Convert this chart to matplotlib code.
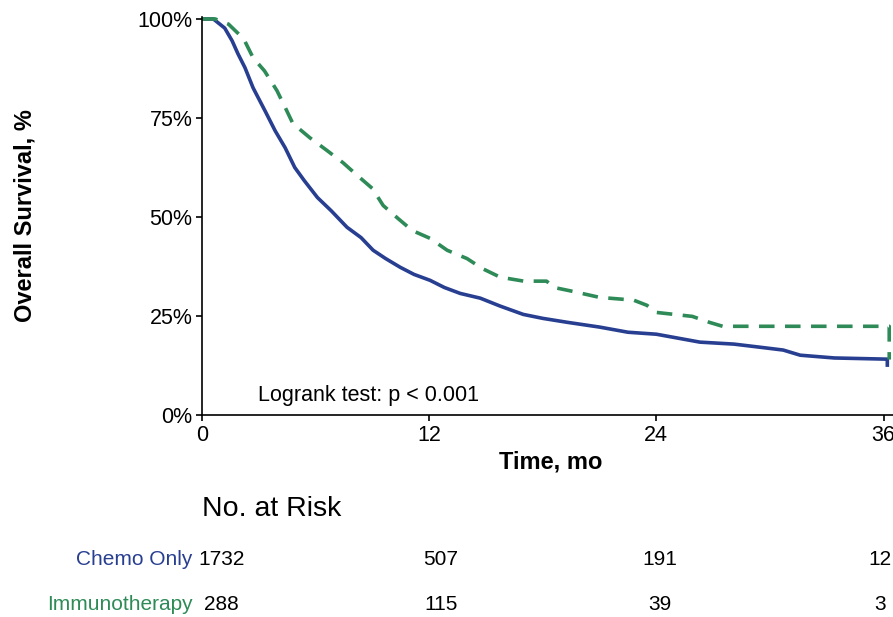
import matplotlib
matplotlib.use("Agg")
import matplotlib.pyplot as plt

plt.rcParams['font.family'] = ['Liberation Sans', 'DejaVu Sans']

# curves (months, survival fraction)
chemo_t = [0, 0.6, 1.2, 1.59, 1.9, 2.27, 2.7, 3.33, 3.86, 4.39, 4.9, 5.4, 6.1, 6.82, 7.66,
           8.4, 9.04, 9.7, 10.47, 11.2, 12.05, 12.8, 13.64, 14.7, 15.75, 16.97, 18.0, 19.3,
           21.0, 22.5, 24.0, 26.3, 28.1, 29.5, 30.7, 31.6, 33.4, 36.2, 36.2]
chemo_s = [1.0, 1.0, 0.977, 0.945, 0.912, 0.877, 0.826, 0.768, 0.718, 0.675, 0.625, 0.592,
           0.549, 0.516, 0.474, 0.448, 0.416, 0.395, 0.373, 0.355, 0.340, 0.322, 0.307, 0.295,
           0.275, 0.254, 0.244, 0.234, 0.222, 0.209, 0.204, 0.184, 0.179, 0.171, 0.164, 0.151,
           0.144, 0.141, 0.126]

immuno_t = [0, 0.7, 1.4, 2.2, 2.7, 3.3, 3.96, 4.4, 4.8, 5.7, 6.6, 7.45, 8.2, 9.0, 9.57, 10.36,
            11.1, 12.05, 12.95, 14.0, 14.8, 15.75, 17.0, 18.2, 18.6, 19.6, 21.0, 22.8, 23.5,
            24.0, 25.9, 26.8, 27.5, 36.3, 36.3]
immuno_s = [1.0, 1.0, 0.987, 0.95, 0.902, 0.869, 0.819, 0.776, 0.736, 0.70, 0.668, 0.637, 0.605,
            0.572, 0.529, 0.496, 0.466, 0.446, 0.416, 0.395, 0.37, 0.348, 0.338, 0.338, 0.322,
            0.312, 0.297, 0.29, 0.277, 0.259, 0.249, 0.234, 0.224, 0.224, 0.14]

groups = ['Chemo Only', 'Immunotherapy']
colors = ['#283F91', '#2E8B57']
risk_times = [0, 12, 24, 36]
risk_chemo = [1732, 507, 191, 12]
risk_immuno = [288, 115, 39, 3]

W, H = 893, 617
fig = plt.figure(figsize=(W / 100, H / 100), dpi=100)
ax = fig.add_axes([202 / W, 1 - 415 / H, (W - 202) / W, (415 - 17) / H])

ax.plot(chemo_t, chemo_s, color=colors[0], lw=2.6)
ax.plot(immuno_t, immuno_s, color=colors[1], lw=2.6, dashes=(4.3, 2.9))

ax.set_xlim(0, 36.5)
ax.set_ylim(0, 1.005)
ax.set_xticks([0, 12, 24, 36])
ax.set_yticks([0, 0.25, 0.5, 0.75, 1.0])
ax.set_yticklabels(['0%', '25%', '50%', '75%', '100%'])
for s in ['top', 'right']:
    ax.spines[s].set_visible(False)
for s in ['left', 'bottom']:
    ax.spines[s].set_linewidth(1.2)
ax.tick_params(labelsize=15.5, length=4, width=1.2, pad=3, colors='black')

ax.set_xlabel('Time, mo', fontsize=17, fontweight='bold')
ax.xaxis.set_label_coords(0.505, -0.09)
ax.set_ylabel('Overall Survival, %', fontsize=17, fontweight='bold')
ax.yaxis.set_label_coords(-0.24, 0.5)

ax.text(2.95, 0.048, 'Logrank test: p < 0.001', fontsize=15.5, ha='left', va='center')

# risk table
tab = fig.add_axes([202 / W, 1 - 617 / H, (W - 202) / W, (617 - 480) / H])
tab.set_xlim(-1.07, 36.73)
tab.set_ylim(0, 1)
tab.axis('off')
tab.text(-1.07, 0.79, 'No. at Risk', fontsize=20.5, ha='left', va='center')
for row, (name, col, vals) in enumerate(zip(groups, colors, [risk_chemo, risk_immuno])):
    y = 0.42 - row * 0.33
    tab.text(-1.6, y, name, color=col, fontsize=15, ha='right', va='center')
    for t, v in zip(risk_times, vals):
        tab.text(t, y, str(v), fontsize=15, ha='center', va='center', clip_on=False)

fig.savefig('out.png', dpi=100)
